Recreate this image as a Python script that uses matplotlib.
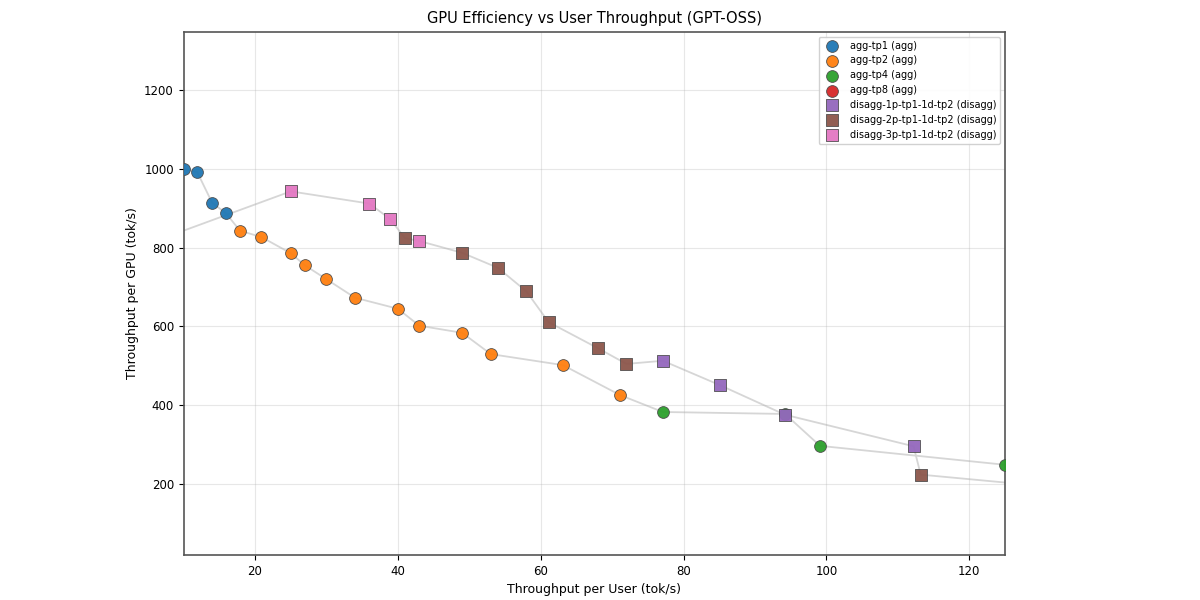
import numpy as np
import matplotlib
matplotlib.use("Agg")
import matplotlib.pyplot as plt

# throughput per user (tok/s) and throughput per GPU (tok/s)
agg_tp1_x = [10.0, 11.9, 14.0, 15.9]
agg_tp1_y = [1000, 992, 914, 888]

agg_tp2_x = [17.9, 20.9, 25.0, 27.0, 30.0, 34.0, 40.0, 43.0, 49.0, 53.0, 63.1, 71.1]
agg_tp2_y = [843, 827, 786, 755, 720, 673, 645, 602, 584, 530, 502, 426]

agg_tp4_x = [77.1, 94.2, 99.1, 125.0]
agg_tp4_y = [383, 378, 297, 249]

agg_tp8_x = []
agg_tp8_y = []

dis_1p_x = [77.1, 85.1, 94.2, 112.2]
dis_1p_y = [513, 451, 376, 296]

dis_2p_x = [41.0, 49.0, 54.0, 58.0, 61.1, 68.0, 72.0, 113.2, 135.0]
dis_2p_y = [824, 787, 749, 689, 611, 545, 505, 224, 187]

dis_3p_x = [5.0, 25.0, 36.0, 38.9, 43.0]
dis_3p_y = [810, 943, 912, 873, 817]

colors = ["#1f77b4", "#ff7f0e", "#2ca02c", "#d62728", "#9467bd", "#8c564b", "#e377c2"]

fig, ax = plt.subplots(figsize=(12, 6), dpi=100)
fig.subplots_adjust(left=0.153, right=0.8375, top=0.947, bottom=0.075)

# frontier lines through all points of each mode, sorted by x
for xs, ys in [(agg_tp1_x + agg_tp2_x + agg_tp4_x + agg_tp8_x,
                agg_tp1_y + agg_tp2_y + agg_tp4_y + agg_tp8_y),
               (dis_1p_x + dis_2p_x + dis_3p_x,
                dis_1p_y + dis_2p_y + dis_3p_y)]:
    order = np.argsort(xs)
    ax.plot(np.array(xs)[order], np.array(ys)[order], color="#d6d6d6", lw=1.3, zorder=1)

series = [
    (agg_tp1_x, agg_tp1_y, "agg-tp1 (agg)", "o"),
    (agg_tp2_x, agg_tp2_y, "agg-tp2 (agg)", "o"),
    (agg_tp4_x, agg_tp4_y, "agg-tp4 (agg)", "o"),
    (agg_tp8_x, agg_tp8_y, "agg-tp8 (agg)", "o"),
    (dis_1p_x, dis_1p_y, "disagg-1p-tp1-1d-tp2 (disagg)", "s"),
    (dis_2p_x, dis_2p_y, "disagg-2p-tp1-1d-tp2 (disagg)", "s"),
    (dis_3p_x, dis_3p_y, "disagg-3p-tp1-1d-tp2 (disagg)", "s"),
]
for (xs, ys, lab, mk), c in zip(series, colors):
    ax.scatter(xs, ys, s=72, marker=mk, color=c, edgecolors="#4a4a4a",
               linewidths=0.6, alpha=0.95, label=lab, zorder=3)

ax.set_xlim(10, 125)
ax.set_ylim(20, 1348)
ax.set_yticks([200, 400, 600, 800, 1000, 1200])
ax.grid(True, alpha=0.3)
ax.set_xlabel("Throughput per User (tok/s)", fontsize=9)
ax.set_ylabel("Throughput per GPU (tok/s)", fontsize=9)
ax.set_title("GPU Efficiency vs User Throughput (GPT-OSS)", fontsize=10.5)
ax.tick_params(labelsize=8.5)
for sp in ax.spines.values():
    sp.set_color("#555555")
    sp.set_linewidth(1.2)

ax.legend(loc="upper right", fontsize=7, framealpha=0.9)

fig.savefig("out.png")
